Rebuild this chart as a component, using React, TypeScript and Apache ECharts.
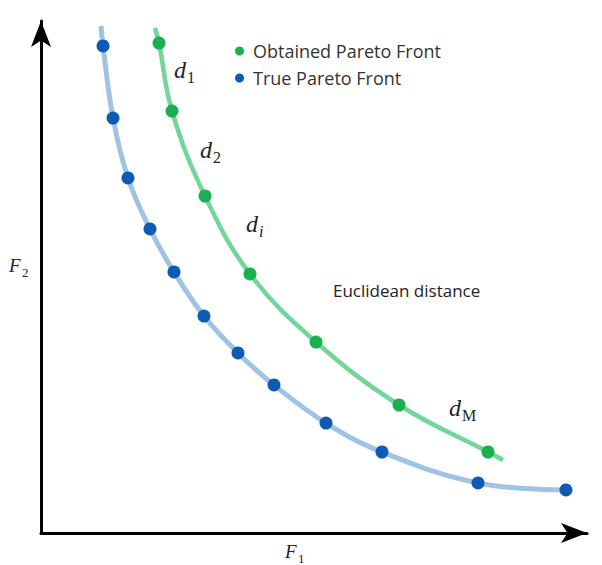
import React, { useEffect, useRef } from "react";
import * as echarts from "echarts";

// True Pareto Front sample points (F1, F2)
const trueX = [1.136, 1.319, 1.593, 1.996, 2.436, 2.985, 3.608, 4.267, 5.22, 6.245, 8.004, 9.615];
const trueY = [9.512, 8.105, 6.934, 5.938, 5.098, 4.238, 3.516, 2.891, 2.148, 1.582, 0.977, 0.84];
// Obtained Pareto Front sample points
const obtX = [2.161, 2.399, 3.004, 3.828, 5.037, 6.557, 8.187];
const obtY = [9.57, 8.242, 6.582, 5.059, 3.73, 2.5, 1.582];
// Curve extents (start / end of the drawn fronts)
const trueCurveStart = [1.099, 9.902];
const obtCurveStart = [2.088, 9.863];
const obtCurveEnd = [8.462, 1.426];

const legendNames = ["Obtained Pareto Front", "True Pareto Front"];

export default function App() {
  const ref = useRef<HTMLDivElement>(null);
  useEffect(() => {
    document.body.style.margin = "0";
    if (!ref.current) return;
    const chart = echarts.init(ref.current, null, { renderer: "svg" });
    const truePts = trueX.map((x, i) => [x, trueY[i]]);
    const obtPts = obtX.map((x, i) => [x, obtY[i]]);
    const trueCurve = [trueCurveStart, ...truePts];
    const obtCurve = [obtCurveStart, ...obtPts, obtCurveEnd];
    const serif = "'Liberation Serif', 'DejaVu Serif', serif";
    const dText = (x: number, y: number, sub: string, subItalic: boolean) => [
      { type: "text", left: x, top: y, style: { text: "d", font: `italic 24px ${serif}`, fill: "#222" } },
      {
        type: "text",
        left: x + 13,
        top: y + 11,
        style: { text: sub, font: `${subItalic ? "italic " : ""}16px ${serif}`, fill: "#222" },
      },
    ];
    chart.setOption({
      animation: false,
      grid: { left: 41, right: 15, top: 21, bottom: 32 },
      xAxis: {
        type: "value",
        min: 0,
        max: 10,
        axisLine: { show: true, lineStyle: { color: "#000", width: 3 }, symbol: ["none", "arrow"], symbolSize: [15, 26] },
        axisTick: { show: false },
        axisLabel: { show: false },
        splitLine: { show: false },
      },
      yAxis: {
        type: "value",
        min: 0,
        max: 10,
        axisLine: { show: true, lineStyle: { color: "#000", width: 3 }, symbol: ["none", "arrow"], symbolSize: [15, 26] },
        axisTick: { show: false },
        axisLabel: { show: false },
        splitLine: { show: false },
      },
      legend: {
        orient: "vertical",
        left: 230,
        top: 37,
        itemGap: 9,
        icon: "circle",
        itemWidth: 9,
        itemHeight: 9,
        textStyle: { fontSize: 18, color: "#333", fontFamily: "'Open Sans', sans-serif", padding: [0, 0, 0, 4] },
        data: legendNames,
      },
      series: [
        {
          type: "line",
          data: trueCurve,
          smooth: 0.4,
          showSymbol: false,
          lineStyle: { color: "#a0c2e5", width: 5 },
          silent: true,
          z: 1,
        },
        {
          type: "line",
          data: obtCurve,
          smooth: 0.4,
          showSymbol: false,
          lineStyle: { color: "#72d59a", width: 4.5 },
          silent: true,
          z: 1,
        },
        {
          name: legendNames[0],
          type: "scatter",
          data: obtPts,
          symbolSize: 13,
          itemStyle: { color: "#1aaf4f", opacity: 1 },
          z: 3,
        },
        {
          name: legendNames[1],
          type: "scatter",
          data: truePts,
          symbolSize: 13,
          itemStyle: { color: "#0e5bb5", opacity: 1 },
          z: 3,
        },
      ],
      graphic: [
        ...dText(174, 58, "1", false),
        ...dText(200, 138, "2", false),
        ...dText(246, 212, "i", true),
        ...dText(449, 396, "M", false),
        { type: "text", left: 9, top: 256, style: { text: "F", font: `italic 19px ${serif}`, fill: "#222" } },
        { type: "text", left: 22, top: 266, style: { text: "2", font: `13px ${serif}`, fill: "#222" } },
        { type: "text", left: 285, top: 542, style: { text: "F", font: `italic 19px ${serif}`, fill: "#222" } },
        { type: "text", left: 298, top: 552, style: { text: "1", font: `13px ${serif}`, fill: "#222" } },
        {
          type: "text",
          left: 333,
          top: 282,
          style: { text: "Euclidean distance", font: "17px 'Open Sans', sans-serif", fill: "#222" },
        },
      ],
    });
    return () => chart.dispose();
  }, []);
  return <div ref={ref} style={{ width: 602, height: 565 }} />;
}
